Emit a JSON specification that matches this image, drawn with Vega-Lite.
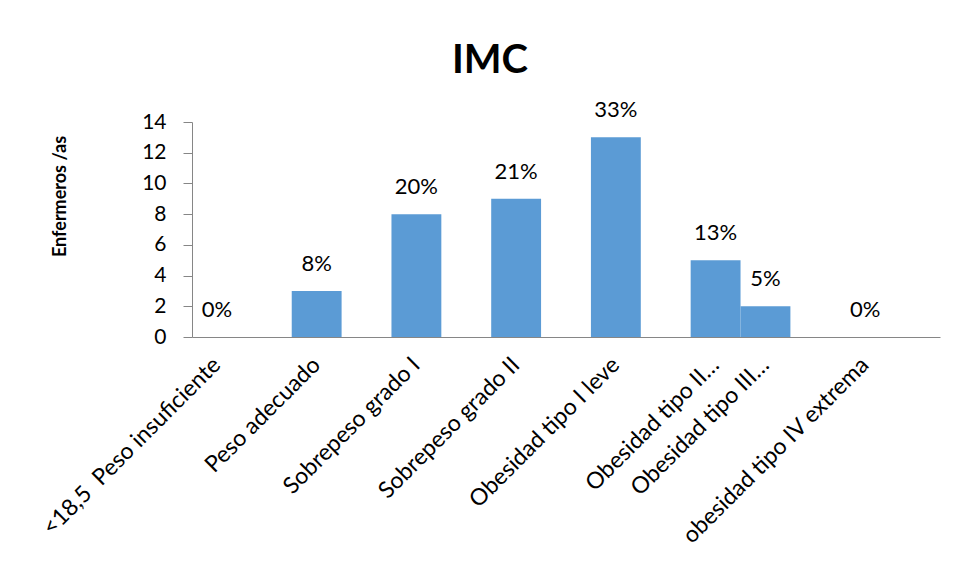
{
  "$schema": "https://vega.github.io/schema/vega-lite/v6.json",
  "autosize": {"type": "none"},
  "padding": {"left": 192, "top": 122, "right": 18, "bottom": 244},
  "width": 748,
  "height": 215,
  "background": "white",
  "config": {
    "view": {"stroke": null},
    "font": "Lato",
    "axis": {"grid": false, "domainColor": "#868686", "tickColor": "#868686", "labelColor": "#000000", "titleColor": "#000000", "labelFont": "Lato", "titleFont": "Lato"}
  },
  "title": {
    "text": "IMC",
    "font": "Lato",
    "fontSize": 40,
    "fontWeight": "bold",
    "color": "#000000",
    "anchor": "middle",
    "dx": -76,
    "offset": 18
  },
  "data": {
    "values": [
      {"categoria": "<18,5\u00a0 Peso insuficiente", "enfermeros": 0, "porcentaje": "0%"},
      {"categoria": "Peso adecuado", "enfermeros": 3, "porcentaje": "8%"},
      {"categoria": "Sobrepeso grado I", "enfermeros": 8, "porcentaje": "20%"},
      {"categoria": "Sobrepeso grado II", "enfermeros": 9, "porcentaje": "21%"},
      {"categoria": "Obesidad tipo I leve", "enfermeros": 13, "porcentaje": "33%"},
      {"categoria": "Obesidad tipo II…", "enfermeros": 5, "porcentaje": "13%"},
      {"categoria": "Obesidad tipo III…", "enfermeros": 2, "porcentaje": "5%"},
      {"categoria": "obesidad tipo IV extrema", "enfermeros": 0, "porcentaje": "0%"}
    ]
  },
  "encoding": {
    "x": {
      "field": "categoria",
      "type": "nominal",
      "sort": null,
      "scale": {
        "domain": ["<18,5\u00a0 Peso insuficiente", " ", "Peso adecuado", "  ", "Sobrepeso grado I", "   ", "Sobrepeso grado II", "    ", "Obesidad tipo I leve", "     ", "Obesidad tipo II…", "Obesidad tipo III…", "      ", "obesidad tipo IV extrema", "       "],
        "paddingInner": 0,
        "paddingOuter": 0
      },
      "axis": {
        "title": null,
        "ticks": false,
        "labelAngle": -45,
        "labelAlign": "right",
        "labelBaseline": "middle",
        "labelFontSize": 23,
        "labelPadding": 24,
        "labelLimit": 400,
        "labelOverlap": false
      }
    },
    "y": {
      "field": "enfermeros",
      "type": "quantitative",
      "scale": {"domain": [0, 14], "nice": false},
      "axis": {
        "title": "Enfermeros /as",
        "titleFontSize": 18,
        "titleFontWeight": "bold",
        "titleX": -132,
        "titleY": 74,
        "titleAngle": 270,
        "titleAlign": "center",
        "titleBaseline": "middle",
        "values": [0, 2, 4, 6, 8, 10, 12, 14],
        "labelFontSize": 21,
        "tickSize": 9,
        "labelPadding": 17
      }
    }
  },
  "layer": [
    {
      "mark": {"type": "bar", "color": "#5B9BD5"}
    },
    {
      "mark": {"type": "text", "fontSize": 22, "color": "#000000", "baseline": "alphabetic", "dy": -20, "font": "Lato"},
      "encoding": {"text": {"field": "porcentaje"}}
    }
  ]
}
